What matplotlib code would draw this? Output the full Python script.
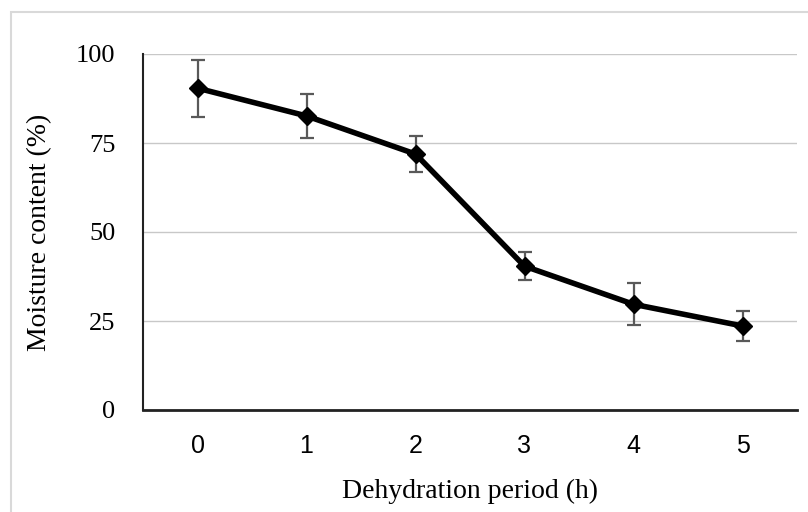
import matplotlib
matplotlib.use("Agg")
import matplotlib.pyplot as plt
from matplotlib.patches import Rectangle

# ---- data ----
hours = [0, 1, 2, 3, 4, 5]
moisture = [90.4, 82.6, 71.9, 40.4, 29.7, 23.6]
moisture_err = [8.0, 6.1, 5.0, 3.9, 5.9, 4.1]
y_ticks = [0, 25, 50, 75, 100]

SERIF = ["Liberation Serif", "DejaVu Serif"]
SANS = ["Liberation Sans", "DejaVu Sans"]

fig = plt.figure(figsize=(8.08, 5.12), dpi=100)
fig.patch.set_facecolor("white")

# light frame round the chart (only top/left edges show in the crop)
frame = Rectangle((11 / 808, -0.2), 2.0, (1 - 12 / 512) + 0.2,
                  transform=fig.transFigure, fill=False,
                  edgecolor="#d9d9d9", linewidth=1.5)
fig.patches.append(frame)

ax = fig.add_axes([143 / 808, 102 / 512, 654 / 808, 356 / 512])

# gridlines
ax.set_axisbelow(True)
ax.yaxis.grid(True, color="#c8c8c8", linewidth=1.0)

# error bars then the line
ax.errorbar(hours, moisture, yerr=moisture_err, fmt="none",
            ecolor="#595959", elinewidth=1.6, capsize=5, capthick=1.6, zorder=2)
ax.plot(hours, moisture, color="black", linewidth=4, marker="D",
        markersize=9.5, zorder=3)

ax.set_xlim(-0.5, 5.5)
ax.set_ylim(0, 100)
ax.set_xticks(hours)
ax.set_yticks(y_ticks)
ax.tick_params(length=0)
ax.tick_params(axis="y", pad=20)
ax.tick_params(axis="x", pad=17)

for lab in ax.get_yticklabels():
    lab.set_family(SERIF)
    lab.set_fontsize(19)
for lab in ax.get_xticklabels():
    lab.set_family(SANS)
    lab.set_fontsize(18)

for side in ["top", "right"]:
    ax.spines[side].set_visible(False)
ax.spines["left"].set_color("#222222")
ax.spines["left"].set_linewidth(1.5)
ax.spines["bottom"].set_color("#222222")
ax.spines["bottom"].set_linewidth(2.0)

ax.set_xlabel("Dehydration period (h)", family=SERIF, fontsize=20, labelpad=15)
ax.set_ylabel("Moisture content (%)", family=SERIF, fontsize=20, labelpad=17)

fig.savefig("out.png", dpi=100)
